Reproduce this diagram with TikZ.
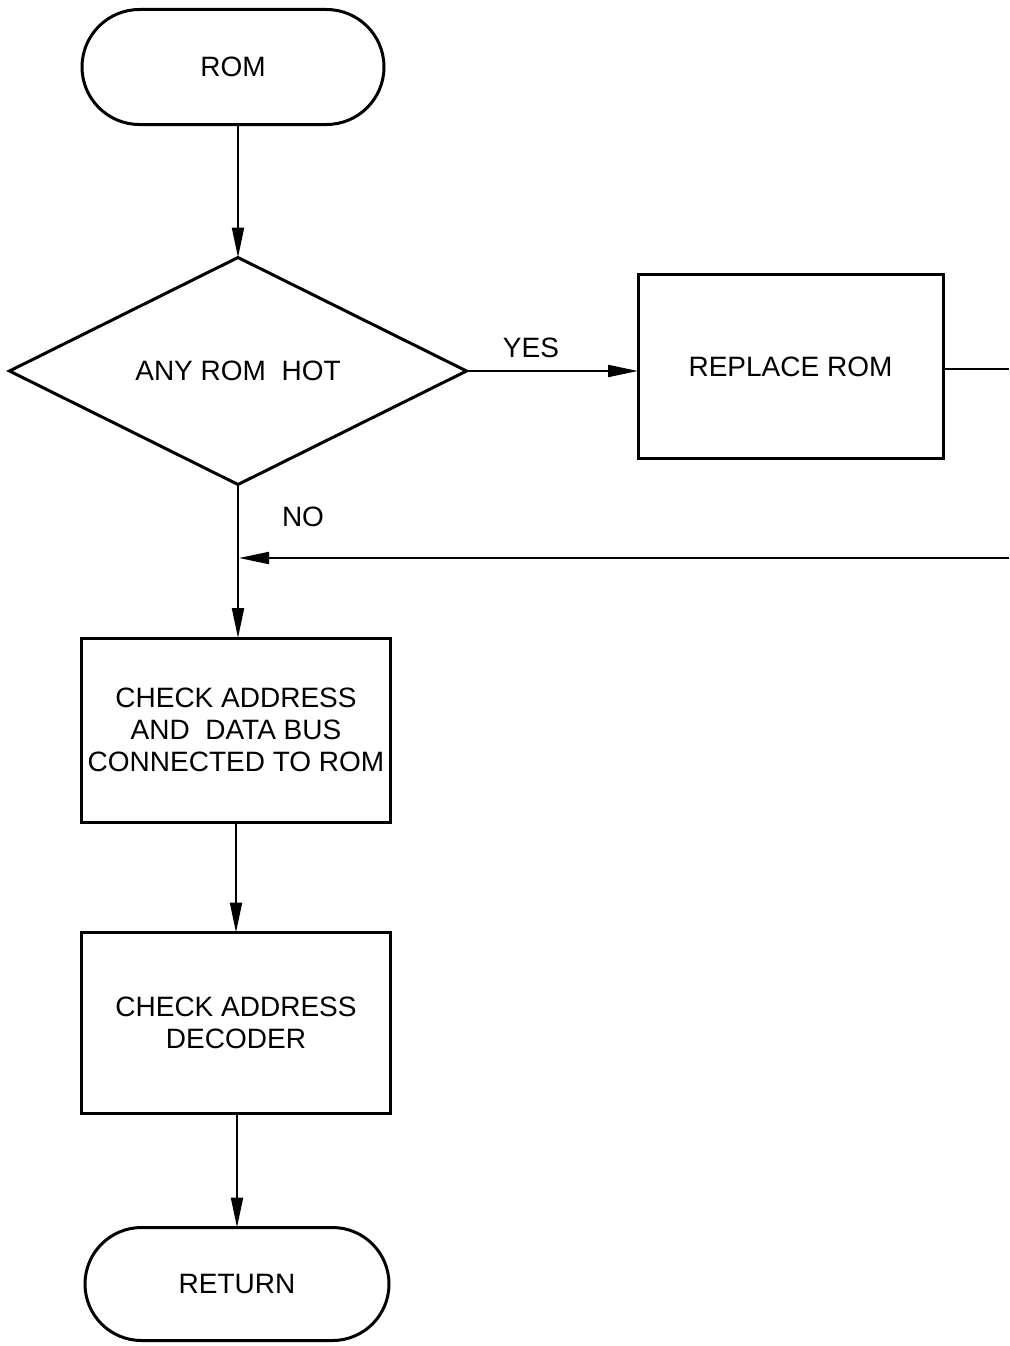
\documentclass[tikz,border=0pt]{standalone}
\usepackage{fontspec}
\setmainfont{Liberation Sans}
\usetikzlibrary{shapes.geometric,shapes.misc,arrows.meta}
\begin{document}
\begin{tikzpicture}[x=1pt,y=-1pt,
  every node/.style={font=\fontsize{28}{32}\selectfont, align=center, inner sep=0pt, outer sep=0pt},
  procbox/.style={draw, line width=3pt, rectangle},
  termbox/.style={draw, line width=3pt, rounded rectangle},
  decbox/.style={draw, line width=3pt, diamond},
  arr/.style={line width=2pt, -{Triangle[length=30pt,width=12pt]}},
  plain/.style={line width=2pt},
  lbl/.style={font=\fontsize{28}{32}\selectfont}]
\useasboundingbox (0,0) rectangle (1009,1346);
\node[termbox, minimum width=302pt, minimum height=115pt] (rom) at (233,67) {ROM};
\node[decbox, minimum width=457pt, minimum height=227pt] (dec) at (238,371) {ANY ROM\ \ HOT};
\node[procbox, minimum width=305pt, minimum height=184pt] (rep) at (790.5,366.5) {REPLACE ROM};
\node[procbox, minimum width=309pt, minimum height=184pt] (b2) at (236,730) {CHECK ADDRESS\\AND\ \ DATA BUS\\CONNECTED TO ROM};
\node[procbox, minimum width=309pt, minimum height=181pt] (b3) at (236,1023) {CHECK ADDRESS\\DECODER};
\node[termbox, minimum width=304pt, minimum height=113pt] (ret) at (237,1284) {RETURN};
\node[lbl] (yes) at (531,348) {YES};
\node[lbl] (no) at (303,517) {NO};
\coordinate (rout) at (1009,369);
\coordinate (rin) at (1009,558);
\coordinate (j) at (239,558);
\draw[arr] (rom.south -| dec.north) -- (dec.north);
\draw[arr] (dec.east) -- (dec.east -| rep.west);
\draw[plain] (rep.east |- rout) -- (rout);
\draw[arr] (rin) -- (j);
\draw[arr] (dec.south) -- (dec.south |- b2.north);
\draw[arr] (b2.south) -- (b3.north);
\draw[arr] (b3.south -| ret.north) -- (ret.north);
\end{tikzpicture}
\end{document}
